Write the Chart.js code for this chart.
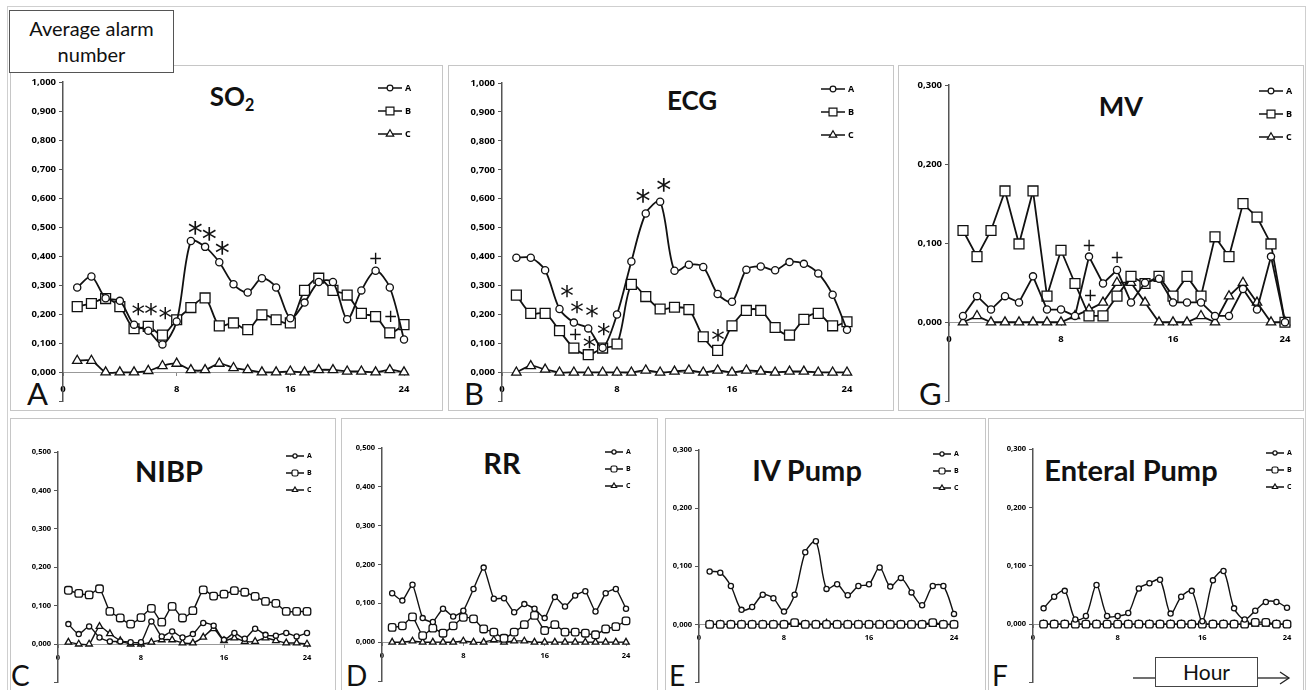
<!DOCTYPE html>
<html>
<head>
<meta charset="utf-8">
<script src="https://cdn.jsdelivr.net/npm/chart.js@4.4.1/dist/chart.umd.min.js"></script>
<style>
  body { margin: 0; width: 1307px; height: 690px; overflow: hidden; background: #fff; position: relative; font-family: Lato, "Open Sans", sans-serif; color: #111; }
  .frame { position: absolute; border: 1.5px solid #c6c6c6; box-sizing: border-box; }
  .box { position: absolute; border: 1.5px solid #555; background: #fff; box-sizing: border-box; text-align: center; }
  canvas { position: absolute; }
  .title { position: absolute; font-weight: 700; line-height: 1; white-space: nowrap; transform: translate(-50%, -50%); }
  .title sub { font-size: 0.62em; position: relative; top: 0.32em; vertical-align: baseline; }
  .letter { position: absolute; line-height: 1; font-weight: 400; }
</style>
</head>
<body>
<div class="frame" style="left:7px;top:6px;width:1299px;height:700px;border-color:#cfcfcf"></div>
<div class="frame" style="left:10px;top:65px;width:433px;height:346px"></div>
<div class="frame" style="left:448px;top:65px;width:446px;height:346px"></div>
<div class="frame" style="left:898px;top:65px;width:406px;height:346px"></div>
<div class="frame" style="left:10px;top:418px;width:326px;height:290px"></div>
<div class="frame" style="left:341px;top:418px;width:317px;height:290px"></div>
<div class="frame" style="left:665px;top:418px;width:321px;height:290px"></div>
<div class="frame" style="left:988px;top:418px;width:316px;height:290px"></div>

<div class="box" style="left:9px;top:10px;width:165px;height:63px;font-size:20px;line-height:26px;padding-top:4px">Average alarm<br>number</div>

<div class="title" style="left:232px;top:96px;font-size:26px">SO<sub>2</sub></div>
<div class="title" style="left:692px;top:100px;font-size:26px">ECG</div>
<div class="title" style="left:1121px;top:105px;font-size:27px">MV</div>
<div class="title" style="left:169px;top:470px;font-size:29px">NIBP</div>
<div class="title" style="left:502px;top:462px;font-size:29px">RR</div>
<div class="title" style="left:807px;top:469px;font-size:29px">IV Pump</div>
<div class="title" style="left:1131px;top:469px;font-size:29px">Enteral Pump</div>

<div class="letter" style="left:27px;top:378px;font-size:31px">A</div>
<div class="letter" style="left:464px;top:378px;font-size:31px">B</div>
<div class="letter" style="left:919px;top:378px;font-size:31px">G</div>
<div class="letter" style="left:11px;top:661px;font-size:28px">C</div>
<div class="letter" style="left:346px;top:661px;font-size:28px">D</div>
<div class="letter" style="left:669px;top:661px;font-size:28px">E</div>
<div class="letter" style="left:992px;top:661px;font-size:28px">F</div>

<div class="box" style="left:1155px;top:657px;width:103px;height:30px;font-size:21px;line-height:27px;border-color:#444">Hour</div>
<svg style="position:absolute;left:0;top:0" width="1307" height="690">
  <g stroke="#222" stroke-width="1.3" fill="none">
    <line x1="1133" y1="678" x2="1155" y2="678"/>
    <line x1="1258" y1="678" x2="1289" y2="678"/>
    <polyline points="1280,672 1289,678 1280,684"/>
  </g>
</svg>

<script>
// hours of the day on the x axis
var hours = [1, 2, 3, 4, 5, 6, 7, 8, 9, 10, 11, 12, 13, 14, 15, 16, 17, 18, 19, 20, 21, 22, 23, 24];
var xTickValues = [0, 8, 16, 24];
var seriesNames = ['A', 'B', 'C'];

// SO2
var so2A = [0.292, 0.330, 0.255, 0.246, 0.164, 0.143, 0.096, 0.175, 0.452, 0.432, 0.379, 0.303, 0.275, 0.324, 0.292, 0.186, 0.240, 0.311, 0.311, 0.183, 0.282, 0.350, 0.292, 0.113];
var so2B = [0.226, 0.237, 0.254, 0.226, 0.150, 0.158, 0.128, 0.181, 0.223, 0.256, 0.160, 0.170, 0.147, 0.198, 0.181, 0.170, 0.282, 0.324, 0.282, 0.266, 0.203, 0.192, 0.136, 0.164];
var so2C = [0.040, 0.040, 0.000, 0.000, 0.000, 0.005, 0.022, 0.030, 0.008, 0.008, 0.030, 0.015, 0.008, 0.000, 0.000, 0.003, 0.000, 0.008, 0.008, 0.003, 0.003, 0.000, 0.008, 0.000];
var so2Marks = [[5.3, 0.215, '*'], [6.2, 0.217, '*'], [7.2, 0.203, '*'], [9.3, 0.497, '*'], [10.3, 0.475, '*'], [11.2, 0.429, '*'], [22.0, 0.395, '+'], [23.05, 0.194, '+']];

// ECG
var ecgA = [0.396, 0.396, 0.353, 0.219, 0.172, 0.152, 0.085, 0.200, 0.383, 0.549, 0.590, 0.351, 0.372, 0.364, 0.271, 0.244, 0.355, 0.366, 0.353, 0.381, 0.375, 0.342, 0.268, 0.147];
var ecgB = [0.267, 0.204, 0.204, 0.144, 0.084, 0.061, 0.084, 0.098, 0.304, 0.262, 0.219, 0.225, 0.217, 0.123, 0.076, 0.161, 0.214, 0.214, 0.155, 0.129, 0.183, 0.204, 0.161, 0.175];
var ecgC = [0.000, 0.022, 0.010, 0.000, 0.000, 0.000, 0.000, 0.000, 0.000, 0.007, 0.000, 0.003, 0.007, 0.000, 0.007, 0.000, 0.007, 0.003, 0.000, 0.003, 0.003, 0.000, 0.000, 0.000];
var ecgMarks = [[4.52, 0.279, '*'], [5.22, 0.223, '*'], [6.26, 0.211, '*'], [7.08, 0.149, '*'], [5.1, 0.132, '+'], [6.08, 0.104, '*'], [9.81, 0.610, '*'], [11.25, 0.647, '*'], [15.03, 0.129, '*']];

// MV
var mvA = [0.008, 0.033, 0.016, 0.033, 0.025, 0.058, 0.016, 0.016, 0.008, 0.083, 0.049, 0.066, 0.025, 0.050, 0.055, 0.025, 0.025, 0.025, 0.008, 0.008, 0.042, 0.016, 0.083, 0.000];
var mvB = [0.116, 0.083, 0.116, 0.166, 0.099, 0.166, 0.033, 0.091, 0.049, 0.008, 0.008, 0.033, 0.058, 0.049, 0.058, 0.033, 0.058, 0.033, 0.108, 0.083, 0.150, 0.133, 0.099, 0.000];
var mvC = [0.000, 0.008, 0.000, 0.000, 0.000, 0.000, 0.000, 0.000, 0.008, 0.016, 0.025, 0.050, 0.050, 0.025, 0.000, 0.000, 0.000, 0.008, 0.000, 0.033, 0.050, 0.025, 0.000, 0.000];
var mvMarks = [[10.0, 0.098, '+'], [12.0, 0.083, '+'], [10.1, 0.034, '+']];

// NIBP
var nibpA = [0.052, 0.026, 0.046, 0.017, 0.007, 0.007, 0.005, 0.005, 0.059, 0.020, 0.033, 0.017, 0.026, 0.055, 0.048, 0.011, 0.029, 0.014, 0.040, 0.024, 0.022, 0.029, 0.020, 0.029];
var nibpB = [0.140, 0.132, 0.128, 0.144, 0.085, 0.068, 0.052, 0.069, 0.093, 0.057, 0.098, 0.068, 0.087, 0.141, 0.125, 0.130, 0.139, 0.135, 0.124, 0.111, 0.106, 0.085, 0.085, 0.085];
var nibpC = [0.005, 0.000, 0.000, 0.046, 0.027, 0.009, 0.000, 0.000, 0.005, 0.011, 0.011, 0.003, 0.003, 0.018, 0.040, 0.009, 0.016, 0.007, 0.007, 0.016, 0.009, 0.003, 0.003, 0.000];

// RR
var rrA = [0.126, 0.107, 0.148, 0.062, 0.052, 0.086, 0.066, 0.081, 0.137, 0.192, 0.112, 0.113, 0.077, 0.098, 0.086, 0.062, 0.116, 0.092, 0.120, 0.131, 0.079, 0.126, 0.137, 0.086];
var rrB = [0.038, 0.042, 0.065, 0.017, 0.036, 0.023, 0.042, 0.064, 0.060, 0.034, 0.026, 0.010, 0.026, 0.045, 0.069, 0.030, 0.045, 0.026, 0.026, 0.023, 0.019, 0.034, 0.040, 0.055];
var rrC = [0.000, 0.000, 0.003, 0.000, 0.000, 0.000, 0.000, 0.003, 0.000, 0.000, 0.006, 0.000, 0.003, 0.003, 0.000, 0.000, 0.000, 0.000, 0.000, 0.000, 0.000, 0.000, 0.000, 0.000];

// IV Pump
var ivA = [0.091, 0.089, 0.066, 0.025, 0.030, 0.051, 0.045, 0.022, 0.051, 0.124, 0.143, 0.061, 0.069, 0.050, 0.066, 0.069, 0.098, 0.065, 0.080, 0.055, 0.033, 0.066, 0.066, 0.018];
var ivB = [0.000, 0.000, 0.000, 0.000, 0.000, 0.000, 0.000, 0.000, 0.003, 0.000, 0.000, 0.000, 0.000, 0.000, 0.000, 0.000, 0.000, 0.000, 0.000, 0.000, 0.000, 0.003, 0.000, 0.000];
var ivC = [0.000, 0.000, 0.000, 0.000, 0.000, 0.000, 0.000, 0.000, 0.000, 0.000, 0.000, 0.002, 0.000, 0.000, 0.000, 0.000, 0.000, 0.000, 0.000, 0.000, 0.000, 0.000, 0.000, 0.000];

// Enteral Pump
var entA = [0.027, 0.047, 0.057, 0.008, 0.014, 0.067, 0.014, 0.014, 0.019, 0.061, 0.070, 0.076, 0.018, 0.047, 0.057, 0.005, 0.075, 0.091, 0.027, 0.008, 0.023, 0.038, 0.038, 0.028];
var entB = [0.000, 0.000, 0.000, 0.000, 0.000, 0.000, 0.000, 0.000, 0.000, 0.000, 0.000, 0.000, 0.000, 0.000, 0.000, 0.000, 0.000, 0.000, 0.000, 0.000, 0.003, 0.003, 0.000, 0.000];
var entC = [0.000, 0.000, 0.000, 0.000, 0.000, 0.000, 0.000, 0.000, 0.000, 0.000, 0.000, 0.000, 0.000, 0.000, 0.000, 0.000, 0.000, 0.000, 0.000, 0.000, 0.000, 0.000, 0.000, 0.000];

// frame = canvas box [left, top, w, h], plot = chart area [left, top, right, bottom]
var panels = [
  { frame: [10, 65, 433, 345], plot: [63, 82, 404, 406.5], yMax: 1.0, series: [so2A, so2B, so2C], marks: so2Marks, small: false, tension: 0.3 },
  { frame: [448, 65, 446, 345], plot: [502, 83, 847, 406], yMax: 1.0, series: [ecgA, ecgB, ecgC], marks: ecgMarks, small: false, tension: 0.3 },
  { frame: [898, 65, 406, 345], plot: [949, 85, 1285, 406], yMax: 0.3, series: [mvA, mvB, mvC], marks: mvMarks, small: false, tension: 0 },
  { frame: [10, 418, 326, 272], plot: [58, 452, 307, 682.5], yMax: 0.5, series: [nibpA, nibpB, nibpC], marks: [], small: true, tension: 0.2 },
  { frame: [341, 418, 317, 272], plot: [382, 448, 626, 681], yMax: 0.5, series: [rrA, rrB, rrC], marks: [], small: true, tension: 0.15 },
  { frame: [665, 418, 321, 272], plot: [699, 450, 954, 683], yMax: 0.3, series: [ivA, ivB, ivC], marks: [], small: true, tension: 0.3 },
  { frame: [988, 418, 316, 272], plot: [1033, 449, 1287, 685], yMax: 0.3, series: [entA, entB, entC], marks: [], small: true, tension: 0.3 }
];

function fmt(v) {
  if (v < -0.0001) return '';
  return Math.abs(v).toFixed(3).replace('.', ',');
}

function drawMarker(ctx, style, x, y, r) {
  ctx.fillStyle = '#fff';
  ctx.strokeStyle = '#111';
  ctx.lineWidth = 1.2;
  if (Chart.helpers && Chart.helpers.drawPoint) {
    Chart.helpers.drawPoint(ctx, { pointStyle: style, radius: r, borderWidth: 1.2, rotation: 0 }, x, y);
  } else {
    ctx.beginPath(); ctx.arc(x, y, r, 0, Math.PI * 2); ctx.fill(); ctx.stroke();
  }
}

function legendPlugin(p) {
  return {
    id: 'panelLegend',
    afterDraw: function (chart) {
      var ctx = chart.ctx, a = chart.chartArea;
      var L = p.small ? { top: 4, gap: 17, len: 18, dx: -3, font: 7 } : { top: 6, gap: 23, len: 24, dx: -2, font: 9 };
      chart.data.datasets.forEach(function (ds, i) {
        var y = a.top + L.top + i * L.gap, x2 = a.right + L.dx, x1 = x2 - L.len;
        ctx.save();
        ctx.strokeStyle = '#111';
        ctx.lineWidth = 1.5;
        ctx.beginPath(); ctx.moveTo(x1, y); ctx.lineTo(x2, y); ctx.stroke();
        drawMarker(ctx, ds.pointStyle, (x1 + x2) / 2, y, ds.pointRadius * 0.8);
        ctx.fillStyle = '#000';
        ctx.font = 'bold ' + L.font + 'px "Open Sans"';
        ctx.textAlign = 'left';
        ctx.textBaseline = 'middle';
        ctx.fillText(ds.label, x2 + 3, y);
        ctx.restore();
      });
    }
  };
}

function marksPlugin(p) {
  return {
    id: 'panelMarks',
    afterDatasetsDraw: function (chart) {
      var ctx = chart.ctx, xs = chart.scales.x, ys = chart.scales.y;
      p.marks.forEach(function (m) {
        var size = m[2] === '*' ? (m[1] > 0.4 ? 30 : 27) : 17;
        ctx.save();
        ctx.font = size + 'px "DejaVu Sans"';
        ctx.fillStyle = '#111';
        ctx.textAlign = 'center';
        ctx.textBaseline = 'alphabetic';
        var tm = ctx.measureText(m[2]);
        var off = (tm.actualBoundingBoxAscent - tm.actualBoundingBoxDescent) / 2;
        ctx.fillText(m[2], xs.getPixelForValue(m[0]), ys.getPixelForValue(m[1]) + off);
        ctx.restore();
      });
    }
  };
}

panels.forEach(function (p) {
  var fx = p.frame[0], fy = p.frame[1], fw = p.frame[2], fh = p.frame[3];
  var cv = document.createElement('canvas');
  cv.width = fw; cv.height = fh;
  cv.style.left = fx + 'px'; cv.style.top = fy + 'px';
  cv.style.width = fw + 'px'; cv.style.height = fh + 'px';
  document.body.appendChild(cv);

  var yAxisW = p.plot[0] - fx;
  var tickFont = { family: '"Open Sans"', weight: 'bold', size: p.small ? 7.5 : 9.5 };
  var styles = p.small ? ['circle', 'rectRounded', 'triangle'] : ['circle', 'rect', 'triangle'];
  var radii = p.small ? [2.6, 4.4, 3.8] : [3.6, 7, 5.4];

  new Chart(cv, {
    type: 'line',
    data: {
      datasets: p.series.map(function (vals, i) {
        return {
          label: seriesNames[i],
          data: hours.map(function (h, k) { return { x: h, y: vals[k] }; }),
          borderColor: '#111',
          borderWidth: p.small ? 1.4 : 1.8,
          pointStyle: styles[i],
          pointRadius: radii[i],
          pointBorderWidth: 1.3,
          pointBackgroundColor: '#fff',
          pointBorderColor: '#111',
          tension: p.tension,
          clip: false
        };
      })
    },
    options: {
      responsive: false,
      animation: false,
      layout: { padding: { left: 0, top: p.plot[1] - fy, right: fx + fw - p.plot[2], bottom: fy + fh - p.plot[3] } },
      plugins: { legend: { display: false }, tooltip: { enabled: false }, title: { display: false } },
      scales: {
        x: {
          type: 'linear',
          position: { y: 0 },
          min: 0, max: 24,
          afterBuildTicks: function (s) { s.ticks = xTickValues.map(function (v) { return { value: v }; }); },
          ticks: { font: tickFont, color: '#000', padding: p.small ? 6 : 8, maxRotation: 0, autoSkip: false },
          grid: { drawOnChartArea: false, tickLength: 3, color: '#888' },
          border: { color: '#999', width: 1 }
        },
        y: {
          min: -0.1, max: p.yMax,
          ticks: { stepSize: 0.1, font: tickFont, color: '#000', padding: 3, callback: fmt },
          grid: { drawOnChartArea: false, tickLength: 4, color: '#555' },
          border: { color: '#555', width: 1.5 },
          afterFit: function (s) { s.width = yAxisW; }
        }
      }
    },
    plugins: [legendPlugin(p), marksPlugin(p)]
  });
});
</script>
</body>
</html>
